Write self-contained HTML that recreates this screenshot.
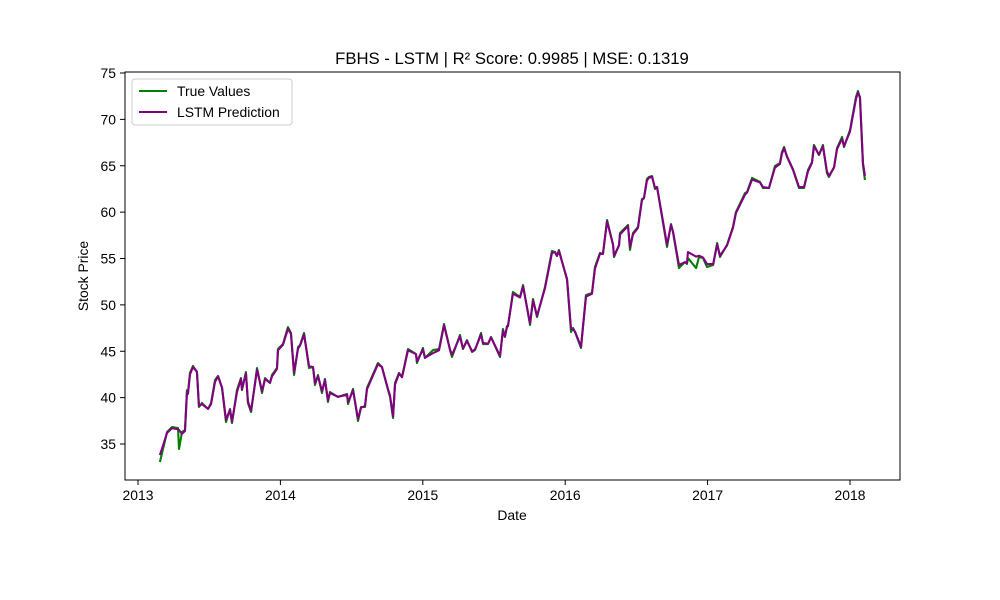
<!DOCTYPE html>
<html><head><meta charset="utf-8"><style>
body{margin:0;background:#fff;}
svg{display:block;font-family:"Liberation Sans","DejaVu Sans",sans-serif;}
</style></head><body>
<svg id="chart" width="1000" height="600">
<rect width="1000" height="600" fill="#fff"/>
<text x="512" y="64" font-size="16.7" text-anchor="middle">FBHS - LSTM | R² Score: 0.9985 | MSE: 0.1319</text>
<g id="plot"></g>
<rect x="125" y="72" width="775" height="408" fill="none" stroke="#000" stroke-width="1"/>
<text x="512" y="520" font-size="13.9" text-anchor="middle">Date</text>
<text transform="translate(88,276) rotate(-90)" font-size="13.9" text-anchor="middle">Stock Price</text>
<g>
<rect x="132" y="79" width="160" height="46" rx="3" fill="#fff" stroke="#ccc"/>
<line x1="139" y1="91" x2="167" y2="91" stroke="#008000" stroke-width="2"/>
<text x="177" y="96" font-size="13.9">True Values</text>
<line x1="139" y1="112" x2="167" y2="112" stroke="#800080" stroke-width="2"/>
<text x="177" y="117" font-size="13.9">LSTM Prediction</text>
</g>
</svg>
<script>
const yearOffsets=[0.154,0.204,0.239,0.281,0.288,0.309,0.330,0.344,0.351,0.365,0.386,0.414,0.428,0.449,0.492,0.513,0.541,0.562,0.590,0.618,0.646,0.660,0.695,0.723,0.730,0.758,0.772,0.794,0.836,0.871,0.892,0.927,0.941,0.976,0.983,1.018,1.053,1.074,1.096,1.124,1.138,1.166,1.201,1.229,1.243,1.264,1.292,1.313,1.334,1.348,1.404,1.468,1.475,1.510,1.545,1.566,1.594,1.608,1.685,1.713,1.756,1.770,1.791,1.805,1.833,1.854,1.896,1.952,1.959,2.001,2.015,2.072,2.114,2.149,2.191,2.205,2.261,2.282,2.310,2.346,2.367,2.409,2.423,2.458,2.479,2.542,2.563,2.577,2.591,2.598,2.633,2.683,2.704,2.753,2.774,2.802,2.858,2.907,2.928,2.942,2.956,3.013,3.041,3.055,3.069,3.111,3.146,3.188,3.209,3.244,3.265,3.294,3.336,3.343,3.378,3.385,3.441,3.455,3.476,3.511,3.539,3.553,3.574,3.588,3.610,3.631,3.645,3.715,3.743,3.757,3.799,3.841,3.855,3.862,3.919,3.940,3.968,3.996,4.039,4.067,4.087,4.136,4.178,4.199,4.263,4.277,4.312,4.368,4.389,4.431,4.473,4.508,4.522,4.537,4.558,4.600,4.642,4.677,4.705,4.733,4.747,4.782,4.810,4.838,4.852,4.888,4.909,4.944,4.958,5.000,5.042,5.056,5.070,5.091,5.105];
const trueValues=[33.06,36.29,36.83,36.72,34.46,36.29,36.51,40.82,40.50,42.66,43.41,42.76,38.99,39.42,38.77,39.42,41.90,42.33,41.04,37.37,38.77,37.26,40.82,42.11,40.82,42.76,39.42,38.45,43.19,40.50,42.11,41.58,42.44,43.19,45.24,45.78,47.61,46.97,42.44,45.46,45.67,46.97,43.19,43.30,41.36,42.44,40.50,42.01,39.53,40.61,40.07,40.39,39.31,40.93,37.48,38.99,38.99,41.04,43.73,43.30,40.82,40.07,37.80,41.58,42.66,42.22,45.24,44.70,43.73,45.35,44.27,45.13,45.24,47.94,45.13,44.38,46.75,45.24,46.21,44.92,45.13,46.97,45.78,45.78,46.54,44.38,47.40,46.54,47.72,47.72,51.39,50.85,52.14,47.83,50.63,48.69,51.93,55.81,55.70,55.27,55.92,52.68,47.07,47.51,47.07,45.35,51.07,51.28,54.08,55.59,55.48,59.15,56.45,55.16,56.45,57.75,58.61,55.92,57.75,58.40,61.41,61.52,63.57,63.79,63.89,62.49,62.71,56.24,58.72,57.86,53.97,54.62,54.41,55.05,53.97,55.16,55.05,54.08,54.30,56.67,55.16,56.45,58.40,60.01,62.06,62.17,63.68,63.25,62.60,62.60,64.97,65.30,66.48,67.02,65.94,64.54,62.60,62.60,64.54,65.40,67.24,66.16,67.24,64.22,63.79,64.86,66.91,68.10,67.02,68.85,72.41,73.06,72.30,65.08,63.46];
const predValues=[33.80,36.20,36.70,36.60,36.50,36.10,36.40,40.60,40.40,42.50,43.30,42.80,39.10,39.30,38.80,39.30,41.70,42.30,41.10,37.60,38.70,37.40,40.60,42.00,40.90,42.60,39.60,38.60,43.00,40.70,42.00,41.60,42.30,43.10,45.10,45.70,47.40,46.90,42.70,45.30,45.60,46.80,43.40,43.30,41.60,42.30,40.70,41.90,39.70,40.50,40.10,40.30,39.50,40.80,37.70,38.90,39.10,40.90,43.60,43.30,40.90,40.20,38.00,41.40,42.60,42.20,45.10,44.70,43.90,45.20,44.30,44.80,45.10,47.80,45.20,44.60,46.60,45.30,46.10,45.00,45.20,46.80,45.90,45.80,46.50,44.50,47.20,46.60,47.60,47.70,51.20,50.80,52.00,48.00,50.50,48.80,51.80,55.60,55.70,55.30,55.80,52.80,47.40,47.40,47.10,45.50,50.90,51.20,53.90,55.50,55.50,59.00,56.50,55.30,56.40,57.60,58.50,56.20,57.60,58.30,61.30,61.50,63.40,63.70,63.80,62.60,62.70,56.50,58.60,57.90,54.30,54.60,54.50,55.70,55.20,55.30,55.10,54.40,54.40,56.50,55.30,56.40,58.30,59.90,61.90,62.10,63.50,63.20,62.70,62.60,64.80,65.20,66.30,66.90,66.00,64.60,62.70,62.70,64.40,65.30,67.10,66.20,67.10,64.40,63.90,64.80,66.80,67.90,67.10,68.70,72.20,72.90,72.40,65.30,63.90];
const xTickLabels=["2013","2014","2015","2016","2017","2018"];
const xTickYears=[2013,2014,2015,2016,2017,2018];
const yTickValues=[35,40,45,50,55,60,65,70,75];

const NS="http://www.w3.org/2000/svg";
const plot=document.getElementById('plot');
const baseYear=2013;
function xScale(yr){return 138+(yr-2013)*142.4;}
function yScale(v){return 73+(75-v)*9.275;}
function mk(t,a){const e=document.createElementNS(NS,t);for(const k in a)e.setAttribute(k,a[k]);return e;}

xTickYears.forEach((yr,i)=>{
  const x=xScale(yr);
  const t=mk('line',{x1:x,x2:x,y1:480,y2:485,stroke:'#000','stroke-width':1});
  
  
  plot.appendChild(t);
  const l=mk('text',{x:x,y:500,'font-size':13.9,'text-anchor':'middle'});
  
  
  l.textContent=xTickLabels[i];
  plot.appendChild(l);
});
yTickValues.forEach(v=>{
  const y=yScale(v);
  const t=mk('line',{x1:120,x2:125,y1:y,y2:y,stroke:'#000','stroke-width':1});
  
  
  plot.appendChild(t);
  const l=mk('text',{x:116,y:y+5,'font-size':13.9,'text-anchor':'end'});
  
  
  l.textContent=v;
  plot.appendChild(l);
});
function line(vals,color,name){
  const d=vals.map((v,i)=>(i?'L':'M')+xScale(baseYear+yearOffsets[i]).toFixed(2)+','+yScale(v).toFixed(2)).join('');
  const p=mk('path',{d:d,fill:'none',stroke:color,'stroke-width':2.1,'stroke-linejoin':'round'});
  
  
  plot.appendChild(p);
}
line(trueValues,'#008000','true-values-line');
line(predValues,'#800080','lstm-prediction-line');
</script>
</body></html>
